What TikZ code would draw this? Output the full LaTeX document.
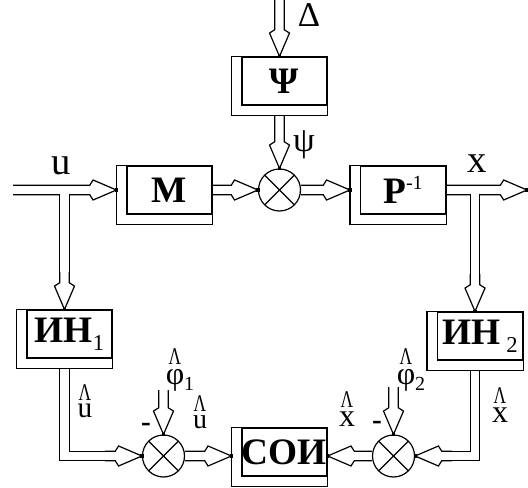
\documentclass[tikz,border=0pt]{standalone}
\usepackage{fontspec}
\setmainfont{Liberation Serif}
\usetikzlibrary{calc}

% geometry of the hollow double-line arrows
\newcommand\arrw{3.56pt}  % half distance between the two lines
\newcommand\arrL{20pt}    % head length
\newcommand\arrB{17.5pt}  % distance of the barbs from the tip
\newcommand\arrW{7.5pt}   % half width of the head at the barbs

% letter with a caret above it
\newcommand\hatted[2][22]{\vbox{\offinterlineskip\halign{\hfil##\hfil\cr
  \fontsize{18}{18}\selectfont\scalebox{0.72}[1]{Λ}\cr\noalign{\kern3pt}
  \fontsize{#1}{#1}\selectfont #2\cr}}}

\tikzset{
  lw/.style={line width=0.9pt},
  dblarrow/.style={lw, line join=miter, miter limit=10, to path={
    ($(\tikztostart)!\arrw!90:(\tikztotarget)$)
    -- ($($(\tikztotarget)!\arrL!(\tikztostart)$)!\arrw!90:(\tikztotarget)$)
    -- ($($(\tikztotarget)!\arrB!(\tikztostart)$)!\arrW!90:(\tikztotarget)$)
    -- (\tikztotarget) node[tipdot]{}
    -- ($($(\tikztotarget)!\arrB!(\tikztostart)$)!\arrW!-90:(\tikztotarget)$)
    -- ($($(\tikztotarget)!\arrL!(\tikztostart)$)!\arrw!-90:(\tikztotarget)$)
    -- ($(\tikztostart)!\arrw!-90:(\tikztotarget)$)}},
  dblline/.style={lw, double distance=6.22pt, line join=miter},
  tipdot/.style={fill=black, draw=none, inner sep=0pt, minimum size=2.4pt},
  blk/.style={draw, lw, minimum width=63.75pt, minimum height=36pt, inner sep=0pt,
    font=\fontsize{28}{28}\selectfont\bfseries,
    append after command={\pgfextra{\draw[lw]
      ($(\tikzlastnode.north west)+(-10,0)$) rectangle
      ($(\tikzlastnode.south east)+(0,10)$);}}},
  sum/.style={circle, draw, lw, minimum size=31.5pt, inner sep=0pt,
    path picture={\draw[lw]
      (path picture bounding box.north west) -- (path picture bounding box.south east)
      (path picture bounding box.north east) -- (path picture bounding box.south west);}},
  lbl/.style={inner sep=0pt},
  big/.style={lbl, font=\fontsize{29}{29}\selectfont},
  greek/.style={lbl, font=\fontsize{26}{26}\selectfont},
  minus/.style={lbl, font=\fontsize{22}{22}\selectfont\bfseries},
}

\begin{document}
\begin{tikzpicture}[x=0.75pt, y=-0.75pt]
\useasboundingbox (0,0) rectangle (528,488);

% blocks
\node[blk] (Psi) at (284.5,81)  {Ψ};
\node[blk] (M)   at (169.5,190) {M};
\node[blk] (P)   at (403,190)   {P\raisebox{10pt}{\fontsize{15}{15}\selectfont\mdseries -1}};
\node[blk] (IN1) at (69.5,334)  {ИН\raisebox{-6pt}{\fontsize{17}{17}\selectfont\mdseries 1}};
\node[blk] (IN2) at (480,336)   {ИН\,\raisebox{-6pt}{\fontsize{17}{17}\selectfont\mdseries 2}};
\node[blk] (SOI) at (284.5,452) {СОИ};

% summing points
\node[sum] (sumT) at (279.5,190) {};
\node[sum] (sumL) at (163.5,456) {};
\node[sum] (sumR) at (393.5,456) {};

% free ends and branch points
\coordinate (dtop)  at (279.5,0);
\coordinate (uin)   at (13,190);
\coordinate (ubr)   at (64.5,190);
\coordinate (uneck) at (64.5,272);
\coordinate (xend)  at (527,190);
\coordinate (xbr)   at (475,190);
\coordinate (xneck) at (475,274);
\coordinate (n1)    at (105,456);
\coordinate (n2)    at (452,456);
\coordinate (p1top) at (163.5,390);
\coordinate (p2top) at (393.5,387);

% upper loop
\draw[dblarrow] (dtop) to ($(Psi.north)+(-5,0)$);
\draw[dblarrow] ($(Psi.south)+(-5,10)$) to (sumT.north);
\draw[dblarrow] (uin) to ($(M.west)+(-10,0)$);
\draw[dblarrow] (M.east) to (sumT.west);
\draw[dblarrow] (sumT.east) to ($(P.west)+(-10,0)$);
\draw[dblarrow] (P.east) to (xend);

% branches down to the estimators
\draw[dblline] ($(ubr)+(0,4.15)$) -- (uneck);
\draw[dblarrow] (uneck) to ($(IN1.north)+(-5,0)$);
\draw[dblline] ($(xbr)+(0,4.15)$) -- (xneck);
\draw[dblarrow] (xneck) to ($(IN2.north)+(-5,0)$);

% lower loop
\draw[dblline] ($(IN1.south)+(-5,10.6)$) |- (n1);
\draw[dblarrow] (n1) to (sumL.west);
\draw[dblline] ($(IN2.south)+(-5,10.6)$) |- (n2);
\draw[dblarrow] (n2) to (sumR.east);
\draw[dblarrow] (p1top) to (sumL.north);
\draw[dblarrow] (p2top) to (sumR.north);
\draw[dblarrow] (sumL.east) to ($(SOI.west)+(-10,4)$);
\draw[dblarrow] (sumR.west) to ($(SOI.east)+(0,4)$);

% signal labels
\node[big]   (lu)    at (61,166)  {u};
\node[big]   (lx)    at (477,164) {x};
\node[greek] (lD)    at (309,15)  {Δ};
\node[greek] (lpsi)  at (304,145) {ψ};
\node[lbl]   (lu1)   at (85,401)  {\hatted{u}};
\node[lbl]   (lphi1) at (180,370) {\hatted[24]{φ}\raisebox{-5pt}{\fontsize{15}{15}\selectfont 1}};
\node[lbl]   (lu2)   at (200,412) {\hatted[21]{u}};
\node[minus] (lm1)   at (146,427) {-};
\node[lbl]   (lphi2) at (411,370) {\hatted[24]{φ}\raisebox{-5pt}{\fontsize{15}{15}\selectfont 2}};
\node[lbl]   (lx1)   at (347,409) {\hatted[24]{x}};
\node[minus] (lm2)   at (377,425) {-};
\node[lbl]   (lx2)   at (500,405) {\hatted[24]{x}};
\end{tikzpicture}
\end{document}
